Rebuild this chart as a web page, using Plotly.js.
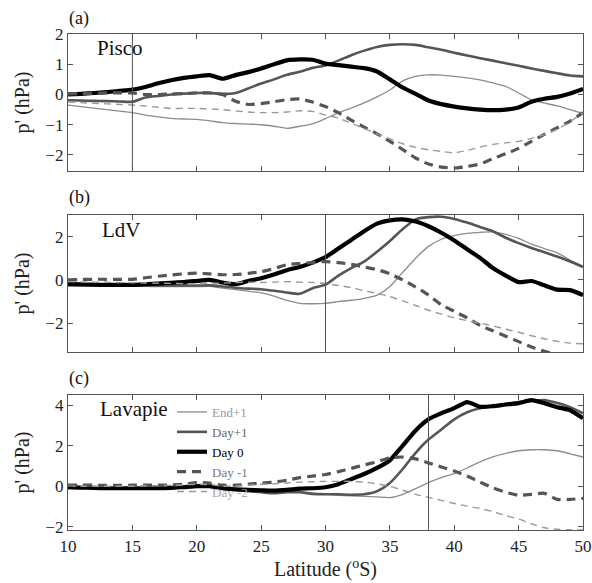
<!DOCTYPE html>
<html>
<head>
<meta charset="utf-8">
<script src="https://cdn.plot.ly/plotly-3.0.1.min.js"></script>
<style>html,body{margin:0;padding:0;background:#fff;}</style>
</head>
<body>
<div id="chart" style="width:592px;height:583px;"></div>
<script>
// Latitude grid (°S)
const lat = [10,11,12,13,14,15,16,17,18,19,20,21,22,23,24,25,26,27,28,29,30,31,32,33,34,35,36,37,38,39,40,41,42,43,44,45,46,47,48,49,50];

// Panel (a) Pisco
const endA  = [-0.35,-0.4,-0.45,-0.5,-0.55,-0.6,-0.68,-0.74,-0.79,-0.81,-0.82,-0.87,-0.93,-0.96,-0.98,-1.0,-1.05,-1.12,-1.05,-0.97,-0.8,-0.6,-0.45,-0.28,-0.08,0.15,0.45,0.6,0.65,0.64,0.6,0.55,0.48,0.38,0.27,0.05,-0.18,-0.28,-0.38,-0.5,-0.63];
const dp1A  = [-0.19,-0.2,-0.21,-0.22,-0.23,-0.24,-0.1,-0.05,0.0,0.03,0.05,0.05,0.02,0.05,0.2,0.36,0.5,0.65,0.75,0.88,0.96,1.12,1.3,1.45,1.57,1.64,1.66,1.64,1.56,1.48,1.38,1.29,1.2,1.12,1.03,0.95,0.86,0.78,0.7,0.63,0.6];
const d0A   = [0.0,0.02,0.05,0.08,0.12,0.16,0.25,0.37,0.47,0.55,0.6,0.64,0.52,0.64,0.74,0.86,1.0,1.13,1.16,1.15,1.02,0.97,0.92,0.87,0.76,0.5,0.23,0.02,-0.2,-0.32,-0.4,-0.46,-0.5,-0.52,-0.5,-0.43,-0.24,-0.14,-0.08,0.03,0.18];
const dm1A  = [0.02,0.03,0.04,0.05,0.05,0.05,0.0,0.0,0.02,0.03,0.05,0.05,0.0,-0.22,-0.33,-0.3,-0.24,-0.17,-0.15,-0.25,-0.4,-0.6,-0.85,-1.08,-1.3,-1.55,-1.82,-2.1,-2.3,-2.4,-2.43,-2.38,-2.3,-2.12,-1.96,-1.78,-1.55,-1.32,-1.1,-0.88,-0.6];
const dm2A  = [-0.25,-0.27,-0.29,-0.31,-0.33,-0.35,-0.38,-0.42,-0.46,-0.46,-0.46,-0.48,-0.5,-0.54,-0.58,-0.6,-0.6,-0.58,-0.54,-0.56,-0.68,-0.78,-0.95,-1.12,-1.3,-1.47,-1.63,-1.75,-1.83,-1.88,-1.93,-1.85,-1.74,-1.65,-1.6,-1.55,-1.45,-1.33,-1.15,-0.9,-0.6];

// Panel (b) LdV
const endB  = [-0.28,-0.28,-0.29,-0.29,-0.3,-0.3,-0.3,-0.31,-0.31,-0.31,-0.31,-0.3,-0.38,-0.45,-0.52,-0.6,-0.75,-0.95,-1.08,-1.1,-1.08,-1.0,-0.94,-0.85,-0.7,-0.3,0.35,1.0,1.55,1.88,2.05,2.15,2.2,2.22,2.1,1.92,1.65,1.45,1.25,0.92,0.62];
const dp1B  = [-0.23,-0.24,-0.25,-0.25,-0.25,-0.25,-0.25,-0.25,-0.25,-0.25,-0.26,-0.25,-0.3,-0.36,-0.4,-0.43,-0.5,-0.58,-0.64,-0.38,-0.22,0.2,0.55,0.85,1.3,1.8,2.35,2.8,2.9,2.92,2.82,2.65,2.45,2.25,1.95,1.7,1.48,1.28,1.08,0.85,0.6];
const d0B   = [-0.18,-0.2,-0.22,-0.23,-0.23,-0.23,-0.2,-0.17,-0.13,-0.1,-0.05,0.0,-0.12,-0.2,-0.05,0.08,0.25,0.45,0.6,0.8,1.05,1.45,1.85,2.25,2.6,2.75,2.8,2.7,2.48,2.18,1.82,1.42,1.02,0.55,0.2,-0.1,-0.05,-0.25,-0.45,-0.47,-0.7];
const dm1B  = [0.0,0.02,0.03,0.03,0.03,0.03,0.1,0.17,0.23,0.28,0.31,0.28,0.24,0.25,0.3,0.38,0.52,0.7,0.76,0.8,0.85,0.8,0.72,0.6,0.48,0.28,0.0,-0.33,-0.7,-1.15,-1.45,-1.75,-2.1,-2.35,-2.6,-2.85,-3.1,-3.3,-3.45,-3.6,-3.7];
const dm2B  = [-0.08,-0.09,-0.1,-0.11,-0.12,-0.13,-0.14,-0.15,-0.16,-0.17,-0.18,-0.15,-0.15,-0.12,-0.1,-0.12,-0.1,-0.08,-0.1,-0.12,-0.16,-0.26,-0.35,-0.5,-0.62,-0.77,-0.97,-1.18,-1.4,-1.58,-1.75,-1.88,-2.0,-2.12,-2.28,-2.42,-2.58,-2.72,-2.84,-2.92,-2.95];

// Panel (c) Lavapie
const endC  = [-0.1,-0.1,-0.11,-0.12,-0.13,-0.14,-0.15,-0.15,-0.12,-0.08,-0.05,-0.05,-0.12,-0.2,-0.25,-0.3,-0.33,-0.2,-0.25,-0.35,-0.4,-0.45,-0.48,-0.5,-0.53,-0.56,-0.4,-0.12,0.18,0.42,0.62,0.9,1.2,1.45,1.62,1.75,1.8,1.8,1.75,1.6,1.44];
const dp1C  = [-0.08,-0.08,-0.09,-0.1,-0.1,-0.1,-0.1,-0.1,-0.08,-0.04,0.0,-0.02,-0.12,-0.2,-0.25,-0.3,-0.35,-0.3,-0.3,-0.38,-0.4,-0.4,-0.42,-0.4,-0.25,0.16,0.85,1.65,2.3,2.8,3.3,3.65,3.85,3.95,4.05,4.15,4.22,4.25,4.1,3.9,3.6];
const d0C   = [-0.05,-0.07,-0.08,-0.1,-0.1,-0.1,-0.1,-0.1,-0.08,-0.04,0.0,0.0,-0.1,-0.15,-0.18,-0.2,-0.22,-0.18,-0.12,-0.1,-0.05,0.1,0.35,0.6,0.9,1.28,2.0,2.75,3.3,3.6,3.85,4.15,3.92,3.95,4.03,4.1,4.25,4.1,3.9,3.75,3.35];
const dm1C  = [0.05,0.05,0.05,0.04,0.04,0.05,0.05,0.05,0.06,0.1,0.18,0.15,0.05,0.05,0.1,0.15,0.2,0.3,0.42,0.5,0.58,0.72,0.88,1.05,1.2,1.4,1.44,1.35,1.15,0.95,0.75,0.5,0.2,-0.08,-0.3,-0.45,-0.4,-0.35,-0.65,-0.65,-0.6];
const dm2C  = [0.0,0.0,0.0,0.0,0.0,0.0,0.02,0.03,0.04,0.06,0.1,0.08,0.0,0.0,0.05,0.1,0.12,0.16,0.2,0.22,0.24,0.24,0.24,0.2,0.12,0.0,-0.2,-0.4,-0.55,-0.7,-0.85,-0.98,-1.1,-1.25,-1.45,-1.62,-1.85,-2.05,-2.12,-2.15,-2.16];

// Reference latitudes (vertical lines) and labels
const refLat = [15, 30, 38];
const stations = ["Pisco", "LdV", "Lavapie"];
const panelTags = ["(a)", "(b)", "(c)"];
const seriesNames = ["End+1", "Day+1", "Day 0", "Day -1", "Day -2"];
const xTicks = [10, 15, 20, 25, 30, 35, 40, 45, 50];

const FONT = "Liberation Serif";
const styles = [
  {color: "#8c8c8c", width: 1.3, dash: "solid", text: "#9a9a9a"},
  {color: "#555555", width: 2.6, dash: "solid", text: "#6a6a6a"},
  {color: "#000000", width: 4.2, dash: "solid", text: "#000000"},
  {color: "#555555", width: 3.2, dash: "9px,6px", text: "#7a7a7a"},
  {color: "#9a9a9a", width: 1.4, dash: "7px,5px", text: "#a8a8a8"}
];
const panels = [
  [endA, dp1A, d0A, dm1A, dm2A],
  [endB, dp1B, d0B, dm1B, dm2B],
  [endC, dp1C, d0C, dm1C, dm2C]
];

const traces = [];
panels.forEach((series, p) => {
  series.forEach((vals, i) => {
    const s = styles[i];
    traces.push({
      x: lat, y: vals, type: "scatter", mode: "lines",
      xaxis: p === 0 ? "x" : "x" + (p + 1),
      yaxis: p === 0 ? "y" : "y" + (p + 1),
      name: '<span style="color:' + s.text + '">' + seriesNames[i] + '</span>',
      showlegend: p === 2,
      line: {color: s.color, width: s.width, dash: s.dash, shape: "spline", smoothing: 0.6}
    });
  });
});

// pixel helpers
const W = 592, H = 583, ML = 68, MR = 9, MT = 34, MB = 53;
const PW = W - ML - MR, PH = H - MT - MB;
const px = x => (x - ML) / PW;
const py = y => 1 - (y - MT) / PH;

const baseX = {
  range: [10, 50], tickvals: xTicks, ticks: "inside", ticklen: 5, tickcolor: "#555",
  showline: true, mirror: "ticks", linecolor: "#555", linewidth: 1.2,
  showgrid: false, zeroline: false, showticklabels: false,
  tickfont: {family: FONT, size: 17, color: "#222"}
};
const baseY = {
  ticks: "inside", ticklen: 5, tickcolor: "#555",
  showline: true, mirror: "ticks", linecolor: "#555", linewidth: 1.2,
  showgrid: false, zeroline: false,
  tickfont: {family: FONT, size: 17, color: "#222"},
  title: {text: "p' (hPa)", font: {family: FONT, size: 20, color: "#222"}, standoff: 10}
};

const layout = {
  width: W, height: H,
  margin: {l: ML, r: MR, t: MT, b: MB},
  paper_bgcolor: "#fff", plot_bgcolor: "#fff",
  font: {family: FONT, color: "#222"},
  xaxis: Object.assign({}, baseX, {anchor: "y"}),
  xaxis2: Object.assign({}, baseX, {anchor: "y2", matches: "x"}),
  xaxis3: Object.assign({}, baseX, {anchor: "y3", matches: "x", showticklabels: true,
    title: {text: "Latitude (<sup>o</sup>S)", font: {family: FONT, size: 20, color: "#222"}, standoff: 4}}),
  yaxis: Object.assign({}, baseY, {anchor: "x", domain: [py(171), py(34)], range: [-2.53, 2], tickvals: [-2, -1, 0, 1, 2]}),
  yaxis2: Object.assign({}, baseY, {anchor: "x2", domain: [py(352), py(215)], range: [-3.33, 3], tickvals: [-2, 0, 2]}),
  yaxis3: Object.assign({}, baseY, {anchor: "x3", domain: [py(530), py(395)], range: [-2.16, 4.5], tickvals: [-2, 0, 2, 4]}),
  showlegend: true,
  legend: {
    x: px(172), y: py(397), xanchor: "left", yanchor: "top",
    bgcolor: "rgba(0,0,0,0)", borderwidth: 0,
    font: {family: FONT, size: 13, color: "#222"},
    tracegroupgap: 0, itemwidth: 30
  },
  shapes: refLat.map((v, p) => ({
    type: "line", xref: p === 0 ? "x" : "x" + (p + 1), yref: (p === 0 ? "y" : "y" + (p + 1)) + " domain",
    x0: v, x1: v, y0: 0, y1: 1, line: {color: "#555", width: 1}
  })),
  annotations: [
    ...panelTags.map((t, p) => ({
      text: t, xref: "paper", yref: "paper", x: px(67), y: py([19, 198, 378][p]),
      xanchor: "left", yanchor: "middle", showarrow: false,
      font: {family: FONT, size: 18, color: "#111"}
    })),
    ...stations.map((t, p) => ({
      text: t, xref: "paper", yref: "paper", x: px([95, 100, 98][p]), y: py([48, 230, 409][p]),
      xanchor: "left", yanchor: "middle", showarrow: false,
      font: {family: FONT, size: 21, color: "#111"}
    }))
  ]
};

Plotly.newPlot("chart", traces, layout, {displayModeBar: false, staticPlot: true});
</script>
</body>
</html>
